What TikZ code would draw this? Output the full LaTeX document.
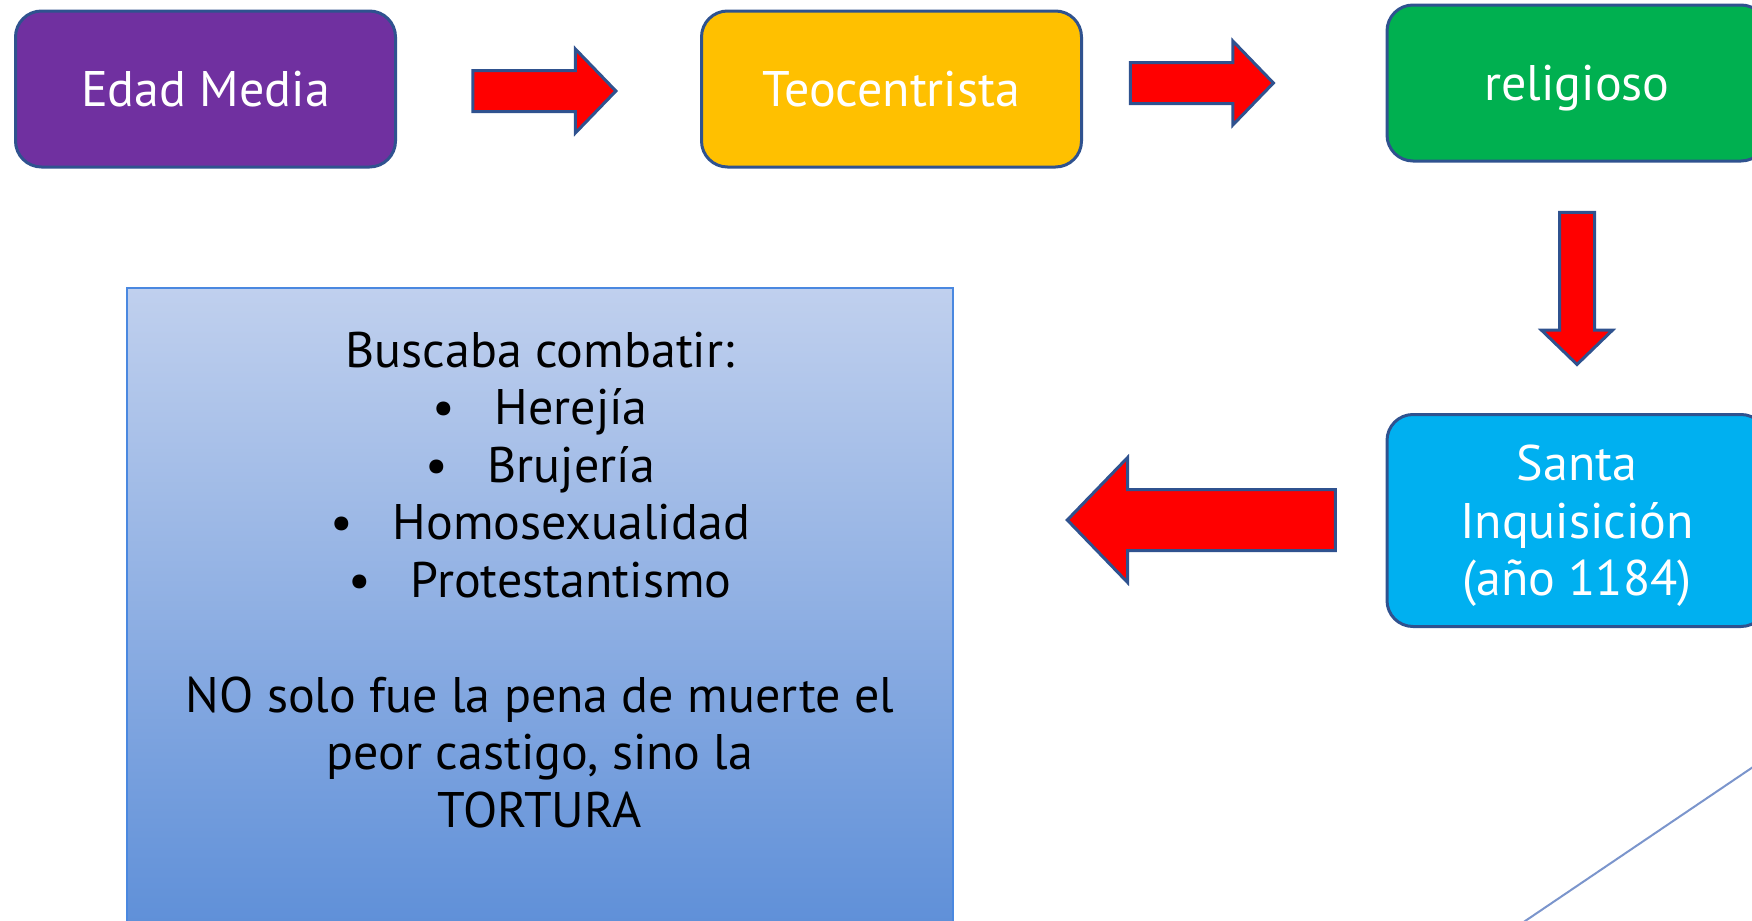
\documentclass[tikz,border=0pt]{standalone}
\usepackage{fontspec}
\setmainfont{PT Sans}
\usepackage{xcolor}
\usepackage{tikz}
\usetikzlibrary{shapes.arrows}
\tikzstyle{block} = [rectangle, draw = edgeBlue, line width = 1.5pt, rounded corners = 13pt, text = white, align = center, text depth = 0pt, minimum width = 190pt, minimum height = 78pt, font = \fontsize{25}{28.75}\selectfont]
\tikzstyle{blockEdad} = [block, fill = edadPurple]
\tikzstyle{blockTeo} = [block, fill = teoGold]
\tikzstyle{blockRelig} = [block, fill = religGreen]
\tikzstyle{blockSanta} = [block, fill = santaCyan, minimum height = 106pt]
\tikzstyle{bigArrow} = [single arrow, draw = edgeBlue, fill = red, line width = 1.5pt, inner xsep = 0pt, inner ysep = 9.5pt, single arrow tip angle = 92, minimum height = 71.5pt, minimum width = 40.5pt, single arrow head extend = 10.75pt]
\tikzstyle{panel} = [rectangle, draw = panelEdge, line width = 1pt, top color = panelTop, bottom color = panelBottom, minimum width = 413pt, minimum height = 322pt, anchor = north]
\tikzstyle{noblock} = [rectangle, draw = none, align = center, font = \fontsize{25}{28.75}\selectfont]
\definecolor{edadPurple}{HTML}{7030A0}
\definecolor{teoGold}{HTML}{FFC000}
\definecolor{religGreen}{HTML}{00B050}
\definecolor{santaCyan}{HTML}{00B0F0}
\definecolor{edgeBlue}{HTML}{2F528F}
\definecolor{panelTop}{HTML}{C0D0EE}
\definecolor{panelBottom}{HTML}{5E8FD8}
\definecolor{panelEdge}{HTML}{4A88E0}
\definecolor{slideLine}{HTML}{7B95CC}

\begin{document}
\begin{tikzpicture}[x = 0.5pt, y = 0.5pt, node distance = 1cm]
        \useasboundingbox (0,0) rectangle (1752,-921);
        \clip (0,0) rectangle (1752,-921);
        \node(E) [blockEdad] at (205.5,-89) {Edad Media};
        \node(T) [blockTeo, right of = E, node distance = 343pt] {Teocentrista};
        \node(R) [blockRelig] at (1577,-83) {religioso};
        \node(S) [blockSanta, below of = R, node distance = 218.75pt] {Santa\\Inquisición\\(año 1184)};
        \node(B) [panel] at (540,-287) {};
        \node(W) [noblock, anchor = north] at (540,-325) {Buscaba combatir:\\
            •\hspace{20pt}Herejía\\
            •\hspace{20pt}Brujería\\
            •\hspace{20pt}Homosexualidad\\
            •\hspace{20pt}Protestantismo\\[28.75pt]
            NO solo fue la pena de muerte el\\
            peor castigo, sino la\\
            TORTURA};
        \node(a1) [bigArrow] at (534.5,-91) {};
        \node(a2) [bigArrow] at (1192,-83) {};
        \node(a3) [bigArrow, rotate = -90, minimum height = 76pt, minimum width = 34pt, inner ysep = 8pt, single arrow head extend = 9pt] at (1577,-280) {};
        \node(a4) [bigArrow, rotate = 180, minimum height = 134pt, minimum width = 61pt, inner ysep = 14.5pt, single arrow head extend = 16pt] at (1216,-520) {};
        %\draw[line] (S) -- (B);
        \draw[slideLine, line width = 1pt] (1790,-742) -- (1500,-938);
    \end{tikzpicture}
\end{document}
